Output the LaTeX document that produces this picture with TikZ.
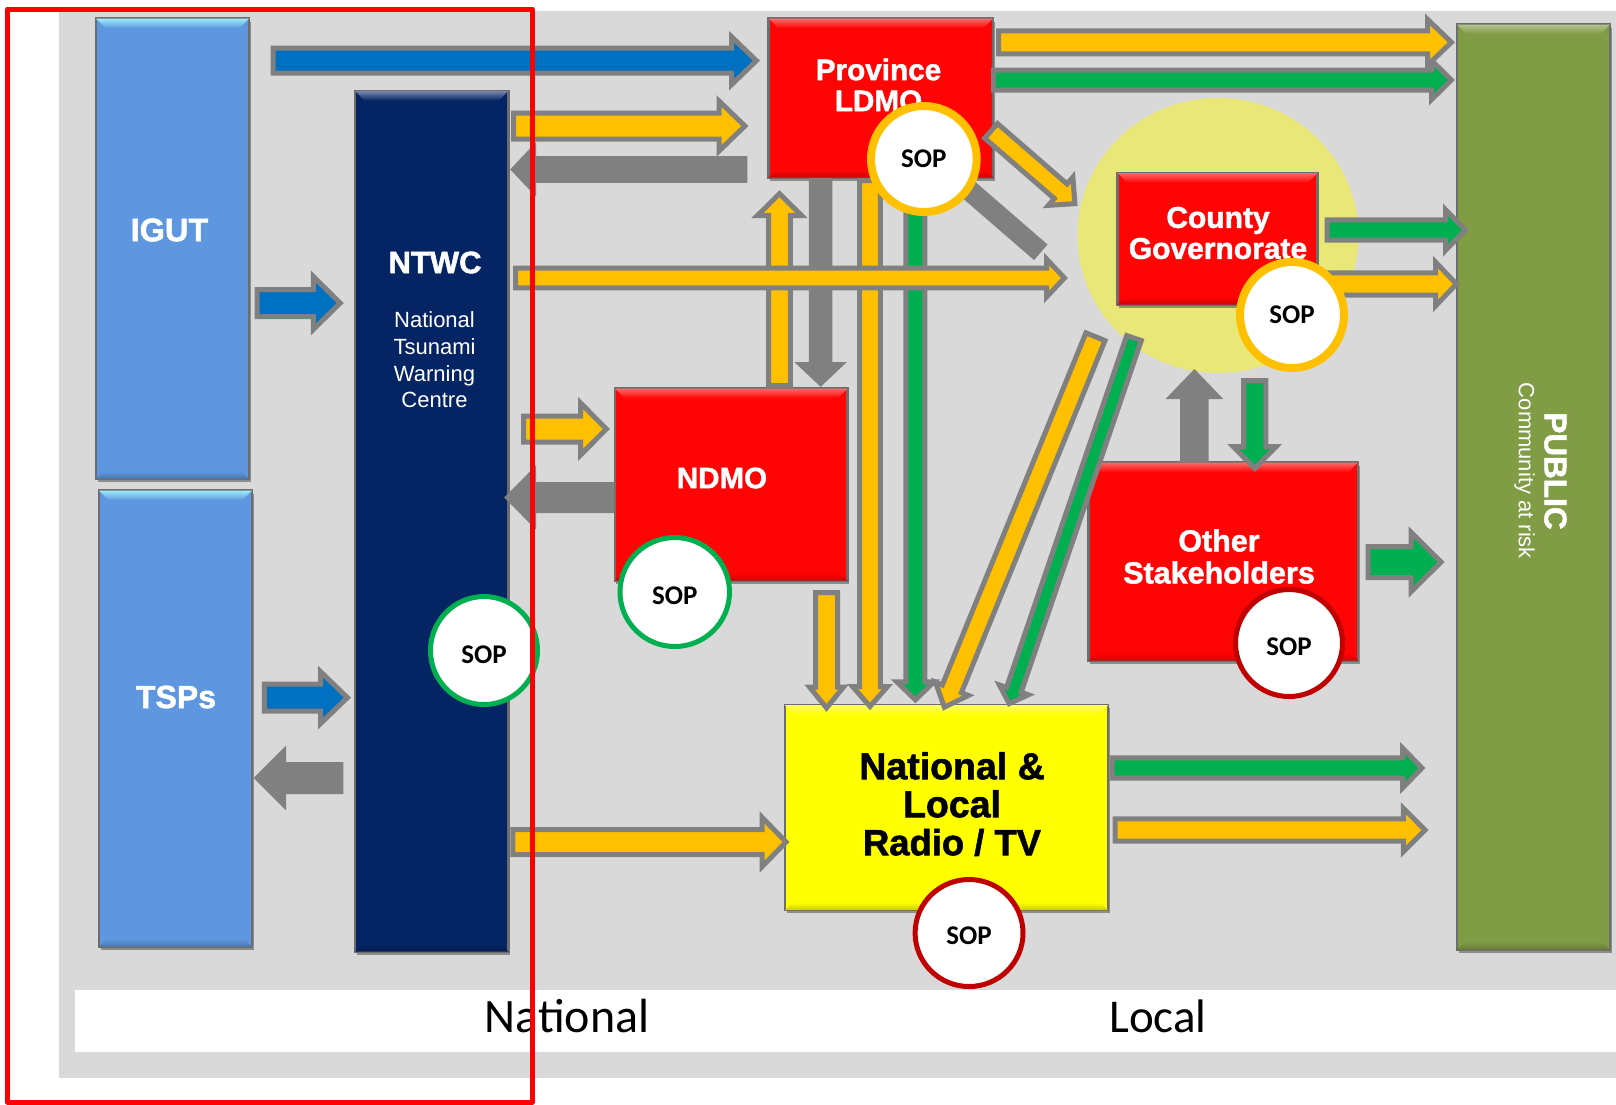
\documentclass[tikz,border=0pt]{standalone}
\usepackage{fontspec}
\setmainfont{Liberation Sans}
\newfontfamily\heavy[FakeBold=1.6]{Liberation Sans Bold}
\newfontfamily\calib{Carlito}
\newfontfamily\calibb{Carlito Bold}
\usetikzlibrary{calc,shapes.geometric,shadows}
\definecolor{bgrey}{HTML}{D9D9D9}
\definecolor{agrey}{HTML}{808080}
\definecolor{aorange}{HTML}{FFC000}
\definecolor{agreen}{HTML}{00B050}
\definecolor{ablue}{HTML}{0070C0}
\definecolor{igblue}{HTML}{5E97E0}
\definecolor{navy}{HTML}{042464}
\definecolor{olive}{HTML}{809C44}
\definecolor{redbox}{HTML}{FF0404}
\definecolor{halo}{HTML}{E9E777}
\definecolor{sopred}{HTML}{C00000}
\definecolor{radioyel}{HTML}{FFFF00}
\tikzset{
  boxstyle/.style={draw=agrey!85!black,line width=2.6pt,minimum width=0pt,inner sep=0pt,
    drop shadow={shadow xshift=1.5pt,shadow yshift=-3pt,opacity=.35,fill=black}},
  arrowline/.style={draw=agrey,line width=5pt,line join=miter,miter limit=12},
  soppill/.style={ellipse,draw=#1,fill=white,inner sep=0pt,text=black},
  heavylabel/.style={inner sep=0pt,text=white,font=\heavy\fontsize{30}{31}\selectfont,align=center},
  thinlabel/.style={inner sep=0pt,text=white,font=\fontsize{22}{26.6}\selectfont,align=center},
  zonelabel/.style={inner sep=0pt,text=black},
  soptext/.style={font=\calibb\fontsize{27}{28}\selectfont}
}
% name, x1,y1,x2,y2, fill, light
\newcommand\bevelbox[7]{%
  \pgfmathsetmacro\bcx{(#2+#4)/2}\pgfmathsetmacro\bcy{(#3+#5)/2}%
  \pgfmathsetmacro\bw{#4-#2-1}\pgfmathsetmacro\bh{#5-#3-1}%
  \node[boxstyle,fill=#6,minimum width=\bw pt,minimum height=\bh pt] (#1) at (\bcx,\bcy) {};
  \shade[top color=#7,bottom color=#6] ($(#1.north west)+(1.3pt,-1.3pt)$) -- ($(#1.north east)+(-1.3pt,-1.3pt)$) -- ($(#1.north east)+(-11pt,-11pt)$) -- ($(#1.north west)+(11pt,-11pt)$) -- cycle;
  \shade[top color=#6,bottom color=#6!80!black] ($(#1.south west)+(1.3pt,1.3pt)$) -- ($(#1.south east)+(-1.3pt,1.3pt)$) -- ($(#1.south east)+(-9pt,9pt)$) -- ($(#1.south west)+(9pt,9pt)$) -- cycle;
}
% name, tail x,y (outer), tip x,y (outer), half shaft, half head, head length, colour
\newcommand\barrow[9]{%
  \coordinate (#1-a) at (#2,#3);
  \coordinate (#1-b) at (#4,#5);
  \coordinate (#1-s) at ($(#1-a)!2.5pt!(#1-b)$);
  \coordinate (#1-t) at ($(#1-b)!3.6pt!(#1-a)$);
  \pgfmathsetmacro\hln{#8-6.1}\pgfmathsetmacro\hsn{#6-2.5}\pgfmathsetmacro\hhn{#7-6}%
  \coordinate (#1-n) at ($(#1-t)!\hln pt!(#1-s)$);
  \draw[arrowline,fill=#9] ($(#1-s)!\hsn pt!90:(#1-t)$) -- ($(#1-n)!\hsn pt!-90:(#1-s)$) -- ($(#1-n)!\hhn pt!-90:(#1-s)$) -- (#1-t) -- ($(#1-n)!\hhn pt!90:(#1-s)$) -- ($(#1-n)!\hsn pt!90:(#1-s)$) -- ($(#1-s)!\hsn pt!-90:(#1-t)$) -- cycle;
}
% name, x1,y1,x2,y2, colour, line width, text drop
\newcommand\sopmark[8]{%
  \pgfmathsetmacro\bcx{(#2+#4)/2}\pgfmathsetmacro\bcy{(#3+#5)/2}%
  \pgfmathsetmacro\bw{#4-#2-#7}\pgfmathsetmacro\bh{#5-#3-#7}%
  \node[soppill=#6,line width=#7 pt,minimum width=\bw pt,minimum height=\bh pt] (#1) at (\bcx,\bcy) {};
  \node[soptext,inner sep=0pt] (#1-txt) at ($(#1)+(0pt,-#8pt)$) {SOP};
}
\begin{document}
\begin{tikzpicture}[x=1pt,y=-1pt]
\useasboundingbox (0,0) rectangle (1616,1104);
\fill[white] (0,0) rectangle (1616,1104);
\fill[bgrey] (59,10.6) rectangle (1616,1078);
\fill[white] (75,990) rectangle (1616,1052);
\node[zonelabel,font=\calib\fontsize{48}{50}\selectfont] (natl) at (567,1016) {National};
\node[zonelabel,font=\calib\fontsize{47}{50}\selectfont] (locl) at (1158,1016) {Local};

\node[ellipse,fill=halo,inner sep=0pt,minimum width=281pt,minimum height=275pt] (halo) at (1218,235.5) {};

\barrow{g19}{1040.8}{252.3}{940}{165}{10.3}{20}{22}{agrey}

\bevelbox{igut}{95.5}{18}{249.5}{479}{igblue}{igblue!40!cyan!45!white}
\bevelbox{tsps}{98.5}{490}{252.5}{947}{igblue}{igblue!40!cyan!45!white}
\bevelbox{ntwc}{354.6}{90.5}{508.8}{952}{navy}{navy!55!white}
\bevelbox{prov}{768}{18}{993.6}{178}{redbox}{redbox!60!white}
\bevelbox{ndmo}{614.4}{388}{848}{581}{redbox}{redbox!60!white}
\bevelbox{cnty}{1117}{172.5}{1318}{305}{redbox}{redbox!60!white}
\bevelbox{othr}{1088}{462}{1358.5}{661}{redbox}{redbox!60!white}
\bevelbox{radio}{784.5}{704.5}{1108.5}{910.5}{radioyel}{radioyel!60!white}
\bevelbox{publ}{1456.5}{24}{1610.6}{950}{olive}{olive!60!white}

\barrow{a1}{270.6}{60.7}{760}{60.7}{15}{30}{31}{ablue}
\barrow{a2}{511}{126}{748.5}{126}{15.5}{31}{32}{aorange}
\barrow{a3}{747.4}{169.4}{510}{169.4}{13.4}{27}{26}{agrey}
\barrow{a4}{254.6}{303}{343.8}{303}{16}{32.5}{33}{ablue}
\barrow{a5}{261.9}{697.6}{351}{697.6}{16}{32}{33}{ablue}
\barrow{a6}{343.3}{778}{253.6}{778}{16}{32.5}{32.5}{agrey}
\barrow{a7}{510.3}{842}{789.7}{842}{15}{30.5}{30}{aorange}
\barrow{a8}{521}{429}{610}{429}{15.5}{32}{32}{aorange}
\barrow{a9}{614.4}{497.5}{504}{497.5}{15.5}{32}{32}{agrey}
\barrow{a11}{779.5}{388}{779.5}{190}{13.4}{28}{28}{aorange}
\barrow{a12}{820.6}{178}{820.6}{387}{11.7}{26}{25}{agrey}
\barrow{a13}{870}{178}{870}{710}{12.8}{23.5}{26}{aorange}
\barrow{a14}{915.4}{190}{915.4}{703.4}{12}{24.5}{24}{agreen}
\barrow{a10}{513}{278}{1068}{278}{12.3}{25}{24}{aorange}
\barrow{a15}{826.5}{590}{826.5}{711.5}{13.5}{23}{27}{aorange}
\barrow{a16}{1096.4}{334.4}{943}{710.5}{12.8}{23.8}{26}{aorange}
\barrow{a17}{1134.8}{335.7}{1008}{707}{10.2}{21.3}{20.6}{agreen}
\barrow{a18}{989.2}{129.2}{1077.6}{206}{12.2}{24.7}{25}{aorange}
\barrow{a21}{991}{80}{1455}{80}{12.5}{25.6}{26}{agreen}
\barrow{a20}{996}{42.3}{1455}{42.3}{14}{29}{30}{aorange}
\barrow{a22}{1324.5}{230}{1469}{230}{12.7}{26.4}{26}{agreen}
\barrow{a23}{1320}{284}{1460}{284}{13.6}{28}{27}{aorange}
\barrow{a24}{1194.4}{462}{1194.4}{369}{14.2}{29}{30}{agrey}
\barrow{a25}{1254.7}{378}{1254.7}{472}{13.6}{27.5}{28}{agreen}
\barrow{a26}{1365.7}{562}{1444.6}{562}{18}{35.7}{36}{agreen}
\barrow{a27}{1109.5}{768}{1425.5}{768}{12.7}{26}{25.5}{agreen}
\barrow{a28}{1112.6}{830}{1428.6}{830}{13.7}{27.8}{27.8}{aorange}

\node[heavylabel,font=\heavy\fontsize{32.5}{31}\selectfont] (t1) at (169.5,230) {IGUT};
\node[heavylabel,font=\heavy\fontsize{32}{31}\selectfont] (t2) at (176,697) {TSPs};
\node[heavylabel,font=\heavy\fontsize{31}{31}\selectfont] (t3) at (435,262.5) {NTWC};
\node[thinlabel] (t4) at (434.5,360) {National\\Tsunami\\Warning\\Centre};
\node[heavylabel,font=\heavy\fontsize{29.7}{31}\selectfont] (t5) at (878.5,85) {Province\\LDMO};
\node[heavylabel,font=\heavy\fontsize{29.5}{31}\selectfont] (t6) at (722,478) {NDMO};
\node[heavylabel] (t7) at (1218,233) {County\\Governorate};
\node[heavylabel,font=\heavy\fontsize{30.5}{32}\selectfont] (t8) at (1219,556.5) {Other\\Stakeholders};
\node[heavylabel,text=black,font=\heavy\fontsize{37.5}{38}\selectfont] (t9) at (952,804) {National \&\\Local\\{\fontsize{36.4}{38}\selectfont Radio / TV}};
\node[heavylabel,rotate=-90,font=\heavy\fontsize{31.5}{31}\selectfont] (t10) at (1555.4,471) {PUBLIC};
\node[thinlabel,rotate=-90] (t11) at (1524.5,471) {Community at risk};

\sopmark{s1}{867}{102}{980.7}{216}{aorange}{8}{0}
\sopmark{s2}{1236}{258}{1348}{372}{aorange}{8}{0}
\sopmark{s3}{617.5}{535}{732}{649}{agreen}{5}{4}
\sopmark{s4}{428}{594}{540}{707}{agreen}{5}{4}
\sopmark{s5}{1233}{587}{1345}{699}{sopred}{5}{4}
\sopmark{s6}{912.6}{877}{1025.5}{989}{sopred}{5}{3}

\draw[red,line width=5pt,line join=round] (7.5,9) rectangle (532,1102);
\end{tikzpicture}
\end{document}
